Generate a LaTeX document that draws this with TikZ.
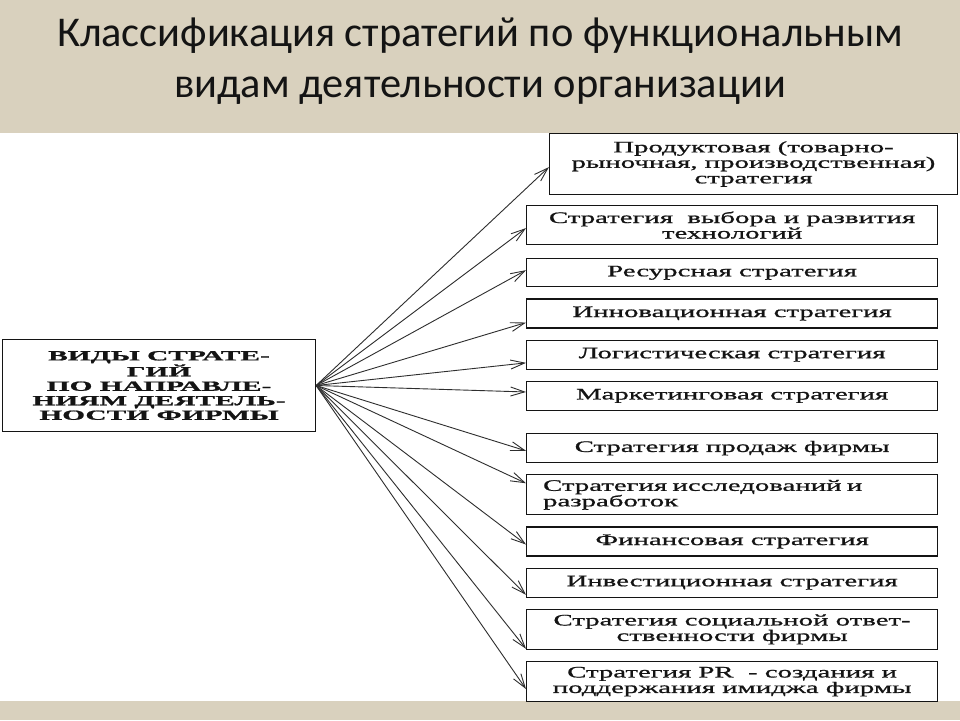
\documentclass[tikz,border=0pt]{standalone}
\usepackage{fontspec}
\setmainfont{Liberation Serif}
\newfontfamily\titlefont{Carlito}
\newfontfamily\boxfont[FakeStretch=1.8,FakeBold=1]{Liberation Serif}
\newfontfamily\kindfont[FakeStretch=2.1,FakeBold=1.2]{Liberation Serif}
\usetikzlibrary{arrows.meta,positioning,calc}
\definecolor{canvas}{HTML}{D9D1BE}
\definecolor{ink}{HTML}{141414}
\definecolor{wire}{HTML}{2E2E2E}
\tikzset{
  every node/.style={text=ink},
  titletext/.style={font=\titlefont\fontsize{42.4}{50}\selectfont,anchor=base,inner sep=0pt},
  stratbox/.style={draw=ink,line width=1.2pt,fill=white,minimum width=411pt,minimum height=29pt,align=center,inner sep=2pt,font=\boxfont\fontsize{16}{15.5}\selectfont},
  kindbox/.style={draw=ink,line width=1.2pt,fill=white,minimum width=313pt,minimum height=92pt,align=center,inner sep=2pt,font=\kindfont\bfseries\fontsize{14}{14.5}\selectfont},
  feed/.style={-{Straight Barb[length=14pt,width=9pt]},line width=0.9pt,draw=wire},
}

\begin{document}
\begin{tikzpicture}[x=1pt,y=-1pt,node distance=11pt]

% slide background
\fill[canvas] (0,0) rectangle (960,720);
\fill[white] (0,133) rectangle (960,701);
\useasboundingbox (0,0) rectangle (960,720);

% title
\node[titletext] (t1) at (480,46) {Классификация стратегий по функциональным};
\node[titletext,below=51pt of t1.base,anchor=base] (t2) {видам деятельности организации};

% root
\node[kindbox] (kinds) at (159,385.5) {ВИДЫ СТРАТЕ-\\ГИЙ\\ПО НАПРАВЛЕ-\\НИЯМ ДЕЯТЕЛЬ-\\НОСТИ ФИРМЫ};

% strategy boxes
\node[stratbox,minimum width=408pt,minimum height=61pt] (b1) at (753.5,164) {Продуктовая (товарно-\\рыночная, производственная)\\стратегия};
\node[stratbox,minimum height=39pt,anchor=north west] (b2) at (526,205) {Стратегия \ выбора и развития\\технологий};
\node[stratbox,minimum height=28pt,below=13pt of b2] (b3) {Ресурсная стратегия};
\node[stratbox,below=of b3] (b4) {Инновационная стратегия};
\node[stratbox,below=of b4] (b5) {Логистическая стратегия};
\node[stratbox,below=of b5] (b6) {Маркетинговая стратегия};
\node[stratbox,below=22pt of b6] (b7) {Стратегия продаж фирмы};
\node[stratbox,minimum height=40pt,align=left,text width=378pt,below=of b7] (b8) {Стратегия исследований и\\разработок};
\node[stratbox,below=of b8] (b9) {Финансовая стратегия};
\node[stratbox,below=of b9] (b10) {Инвестиционная стратегия};
\node[stratbox,minimum height=40pt,below=of b10] (b11) {Стратегия социальной ответ-\\ственности фирмы};
\node[stratbox,minimum height=40pt,below=of b11] (b12) {Стратегия PR \ - создания и\\поддержания имиджа фирмы};

% fan of arrows
\foreach \i/\f in {1/0.55,2/0.575,3/0.41,4/0.8,5/0.77,6/0.37,7/0.59,8/0.22,9/0.6,10/0.9,11/0.97,12/0.68}
  \draw[feed] (kinds.east) -- ($(b\i.north west)!\f!(b\i.south west)$);

\end{tikzpicture}
\end{document}
